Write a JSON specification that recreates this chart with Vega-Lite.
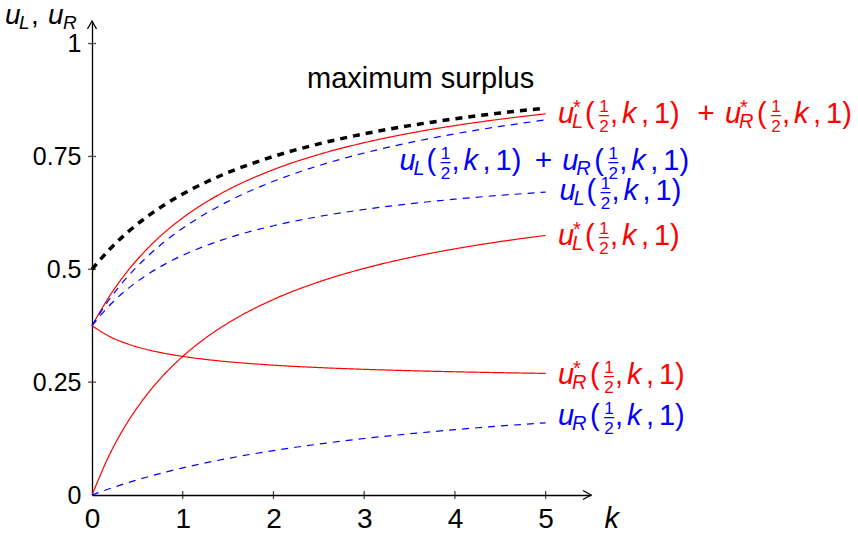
{
  "$schema": "https://vega.github.io/schema/vega-lite/v6.json",
  "width": 499,
  "height": 474,
  "autosize": {"type": "none"},
  "padding": {"left": 92, "top": 21, "right": 267, "bottom": 38},
  "background": "white",
  "config": {
    "view": {"stroke": null},
    "font": "Liberation Sans",
    "axis": {"labelColor": "black", "domainColor": "black", "grid": false}
  },
  "datasets": {
    "curves": [
      {"k": 0, "max": 0.5, "optSum": 0.375, "actSum": 0.375, "uL": 0.375, "uLs": 0, "uRs": 0.375, "uR": 0},
      {"k": 0.2, "max": 0.5455, "optSum": 0.4427, "actSum": 0.4359, "uL": 0.4214, "uLs": 0.0922, "uRs": 0.3505, "uR": 0.0145},
      {"k": 0.4, "max": 0.5833, "optSum": 0.498, "actSum": 0.4853, "uL": 0.4577, "uLs": 0.1638, "uRs": 0.3342, "uR": 0.0276},
      {"k": 0.6, "max": 0.6154, "optSum": 0.5436, "actSum": 0.5263, "uL": 0.4869, "uLs": 0.2211, "uRs": 0.3225, "uR": 0.0394},
      {"k": 0.8, "max": 0.6429, "optSum": 0.5818, "actSum": 0.5611, "uL": 0.5109, "uLs": 0.268, "uRs": 0.3138, "uR": 0.0502},
      {"k": 1, "max": 0.6667, "optSum": 0.614, "actSum": 0.591, "uL": 0.531, "uLs": 0.307, "uRs": 0.307, "uR": 0.06},
      {"k": 1.25, "max": 0.6923, "optSum": 0.6479, "actSum": 0.623, "uL": 0.5519, "uLs": 0.3475, "uRs": 0.3004, "uR": 0.0711},
      {"k": 1.5, "max": 0.7143, "optSum": 0.6762, "actSum": 0.6504, "uL": 0.5693, "uLs": 0.381, "uRs": 0.2952, "uR": 0.0811},
      {"k": 2, "max": 0.75, "optSum": 0.7208, "actSum": 0.6949, "uL": 0.5965, "uLs": 0.4332, "uRs": 0.2876, "uR": 0.0984},
      {"k": 2.5, "max": 0.7778, "optSum": 0.7543, "actSum": 0.7296, "uL": 0.6168, "uLs": 0.472, "uRs": 0.2823, "uR": 0.1128},
      {"k": 3, "max": 0.8, "optSum": 0.7804, "actSum": 0.7576, "uL": 0.6325, "uLs": 0.502, "uRs": 0.2784, "uR": 0.1251},
      {"k": 3.5, "max": 0.8182, "optSum": 0.8013, "actSum": 0.7806, "uL": 0.645, "uLs": 0.5259, "uRs": 0.2754, "uR": 0.1356},
      {"k": 4, "max": 0.8333, "optSum": 0.8183, "actSum": 0.8001, "uL": 0.6553, "uLs": 0.5453, "uRs": 0.273, "uR": 0.1448},
      {"k": 4.5, "max": 0.8462, "optSum": 0.8324, "actSum": 0.8166, "uL": 0.6638, "uLs": 0.5614, "uRs": 0.271, "uR": 0.1528},
      {"k": 5, "max": 0.8571, "optSum": 0.8444, "actSum": 0.8309, "uL": 0.671, "uLs": 0.575, "uRs": 0.2694, "uR": 0.1599}
    ],
    "terms": [
      {"series": "optSum", "sub": "L", "star": "*", "k": 5.136, "v": 0.824},
      {"series": "optSum", "sub": "R", "star": "*", "k": 6.977, "v": 0.824},
      {"series": "actSum", "sub": "L", "star": "", "k": 3.39, "v": 0.7195},
      {"series": "actSum", "sub": "R", "star": "", "k": 5.184, "v": 0.7195},
      {"series": "uL", "sub": "L", "star": "", "k": 5.154, "v": 0.653},
      {"series": "uLs", "sub": "L", "star": "*", "k": 5.136, "v": 0.553},
      {"series": "uRs", "sub": "R", "star": "*", "k": 5.136, "v": 0.2466},
      {"series": "uR", "sub": "R", "star": "", "k": 5.136, "v": 0.154}
    ],
    "plus": [
      {"series": "optSum", "k": 6.767, "v": 0.824},
      {"series": "actSum", "k": 4.976, "v": 0.7195}
    ],
    "ticksX": [{"k": 1, "v": 0}, {"k": 2, "v": 0}, {"k": 3, "v": 0}, {"k": 4, "v": 0}, {"k": 5, "v": 0}],
    "ticksY": [{"k": 0, "v": 0.25}, {"k": 0, "v": 0.5}, {"k": 0, "v": 0.75}, {"k": 0, "v": 1}],
    "yTitle": [{"k": -0.959, "v": 1.044}],
    "xTitle": [{"k": 5.65, "v": -0.0731}],
    "note": [{"k": 2.37, "v": 0.9016}]
  },
  "encoding": {
    "x": {
      "field": "k", "type": "quantitative",
      "scale": {"domain": [0, 5.5], "nice": false, "zero": false},
      "axis": {"values": [0, 1, 2, 3, 4, 5], "title": null, "ticks": false, "tickSize": 0, "labelPadding": 10, "labelFontSize": 28, "labelFlush": false, "labelOverlap": false, "domainWidth": 1.3}
    },
    "y": {
      "field": "v", "type": "quantitative",
      "scale": {"domain": [0, 1.05], "nice": false},
      "axis": {"values": [0, 0.25, 0.5, 0.75, 1], "format": ".2~f", "title": null, "ticks": false, "tickSize": 0, "labelPadding": 11, "labelFontSize": 25, "labelFlush": false, "labelOverlap": false, "domainWidth": 1.3}
    }
  },
  "layer": [
    {
      "data": {"name": "curves"},
      "transform": [{"fold": ["optSum", "actSum", "uL", "uLs", "uRs", "uR"], "as": ["series", "v"]}],
      "mark": {"type": "line", "interpolate": "monotone", "strokeWidth": 1.2},
      "encoding": {
        "color": {"field": "series", "type": "nominal", "legend": null,
          "scale": {"domain": ["max", "optSum", "actSum", "uL", "uLs", "uRs", "uR"], "range": ["#000000", "#ff0000", "#0000ff", "#0000ff", "#ff0000", "#ff0000", "#0000ff"]}},
        "strokeDash": {"field": "series", "type": "nominal", "legend": null,
          "scale": {"domain": ["optSum", "actSum", "uL", "uLs", "uRs", "uR"], "range": [[1, 0], [7, 6], [7, 6], [1, 0], [1, 0], [7, 6]]}}
      }
    },
    {
      "data": {"name": "curves"},
      "transform": [{"fold": ["max"], "as": ["series", "v"]}],
      "mark": {"type": "line", "interpolate": "monotone", "strokeWidth": 3.5, "strokeDash": [7, 6], "color": "black"}
    },
    {"data": {"name": "ticksX"}, "mark": {"type": "tick", "orient": "vertical", "size": 8, "thickness": 1.3, "color": "black"}},
    {"data": {"name": "ticksY"}, "mark": {"type": "tick", "orient": "horizontal", "size": 8, "thickness": 1.3, "color": "black"}},
    {"data": {"values": [{"k": 5.5, "v": 0}]}, "mark": {"type": "point", "shape": "M-1.6,-0.9L0,0L-1.6,0.9", "size": 100, "filled": false, "stroke": "black", "strokeWidth": 1.3, "opacity": 1}},
    {"data": {"values": [{"k": 0, "v": 1.05}]}, "mark": {"type": "point", "shape": "M-0.9,1.6L0,0L0.9,1.6", "size": 100, "filled": false, "stroke": "black", "strokeWidth": 1.3, "opacity": 1}},
    {"data": {"name": "note"}, "mark": {"type": "text", "text": "maximum surplus", "fontSize": 29, "align": "left", "baseline": "alphabetic", "color": "black"}},
    {"data": {"name": "xTitle"}, "mark": {"type": "text", "text": "k", "fontSize": 29, "fontStyle": "italic", "align": "left", "baseline": "alphabetic", "color": "black"}},
    {"data": {"name": "yTitle"}, "mark": {"type": "text", "text": "u", "fontSize": 28, "fontStyle": "italic", "align": "left", "baseline": "alphabetic", "color": "black"}},
    {"data": {"name": "yTitle"}, "mark": {"type": "text", "text": "L", "fontSize": 19, "fontStyle": "italic", "align": "left", "baseline": "alphabetic", "dx": 14, "dy": 5, "color": "black"}},
    {"data": {"name": "yTitle"}, "mark": {"type": "text", "text": ",", "fontSize": 28, "align": "left", "baseline": "alphabetic", "dx": 26, "color": "black"}},
    {"data": {"name": "yTitle"}, "mark": {"type": "text", "text": "u", "fontSize": 28, "fontStyle": "italic", "align": "left", "baseline": "alphabetic", "dx": 43, "color": "black"}},
    {"data": {"name": "yTitle"}, "mark": {"type": "text", "text": "R", "fontSize": 19, "fontStyle": "italic", "align": "left", "baseline": "alphabetic", "dx": 58, "dy": 5, "color": "black"}},
    {"data": {"name": "plus"}, "mark": {"type": "text", "text": "+", "fontSize": 30, "align": "center", "baseline": "alphabetic"}, "encoding": {"color": {"field": "series", "type": "nominal", "legend": null}}},
    {"data": {"name": "terms"}, "mark": {"type": "text", "text": "u", "fontSize": 29, "fontStyle": "italic", "align": "left", "baseline": "alphabetic"}, "encoding": {"color": {"field": "series", "type": "nominal", "legend": null}}},
    {"data": {"name": "terms"}, "mark": {"type": "text", "fontSize": 20, "fontStyle": "italic", "align": "left", "baseline": "alphabetic", "dx": 14, "dy": 5}, "encoding": {"text": {"field": "sub"}, "color": {"field": "series", "type": "nominal", "legend": null}}},
    {"data": {"name": "terms"}, "mark": {"type": "text", "fontSize": 20, "align": "left", "baseline": "alphabetic", "dx": 15, "dy": -9}, "encoding": {"text": {"field": "star"}, "color": {"field": "series", "type": "nominal", "legend": null}}},
    {"data": {"name": "terms"}, "transform": [{"filter": "datum.sub == 'L'"}], "mark": {"type": "text", "text": "(", "fontSize": 29, "align": "left", "baseline": "alphabetic", "dx": 27}, "encoding": {"color": {"field": "series", "type": "nominal", "legend": null}}},
    {"data": {"name": "terms"}, "transform": [{"filter": "datum.sub == 'L'"}], "mark": {"type": "text", "text": "1", "fontSize": 17, "align": "center", "baseline": "alphabetic", "dx": 46, "dy": -11}, "encoding": {"color": {"field": "series", "type": "nominal", "legend": null}}},
    {"data": {"name": "terms"}, "transform": [{"filter": "datum.sub == 'L'"}], "mark": {"type": "text", "text": "–", "fontSize": 18, "align": "center", "baseline": "alphabetic", "dx": 46, "dy": -3}, "encoding": {"color": {"field": "series", "type": "nominal", "legend": null}}},
    {"data": {"name": "terms"}, "transform": [{"filter": "datum.sub == 'L'"}], "mark": {"type": "text", "text": "2", "fontSize": 17, "align": "center", "baseline": "alphabetic", "dx": 46, "dy": 9}, "encoding": {"color": {"field": "series", "type": "nominal", "legend": null}}},
    {"data": {"name": "terms"}, "transform": [{"filter": "datum.sub == 'L'"}], "mark": {"type": "text", "text": ",", "fontSize": 29, "align": "left", "baseline": "alphabetic", "dx": 52}, "encoding": {"color": {"field": "series", "type": "nominal", "legend": null}}},
    {"data": {"name": "terms"}, "transform": [{"filter": "datum.sub == 'L'"}], "mark": {"type": "text", "text": "k", "fontSize": 29, "fontStyle": "italic", "align": "left", "baseline": "alphabetic", "dx": 64}, "encoding": {"color": {"field": "series", "type": "nominal", "legend": null}}},
    {"data": {"name": "terms"}, "transform": [{"filter": "datum.sub == 'L'"}], "mark": {"type": "text", "text": ",", "fontSize": 29, "align": "left", "baseline": "alphabetic", "dx": 83}, "encoding": {"color": {"field": "series", "type": "nominal", "legend": null}}},
    {"data": {"name": "terms"}, "transform": [{"filter": "datum.sub == 'L'"}], "mark": {"type": "text", "text": "1)", "fontSize": 29, "align": "left", "baseline": "alphabetic", "dx": 96}, "encoding": {"color": {"field": "series", "type": "nominal", "legend": null}}},
    {"data": {"name": "terms"}, "transform": [{"filter": "datum.sub == 'R'"}], "mark": {"type": "text", "text": "(", "fontSize": 29, "align": "left", "baseline": "alphabetic", "dx": 32}, "encoding": {"color": {"field": "series", "type": "nominal", "legend": null}}},
    {"data": {"name": "terms"}, "transform": [{"filter": "datum.sub == 'R'"}], "mark": {"type": "text", "text": "1", "fontSize": 17, "align": "center", "baseline": "alphabetic", "dx": 51, "dy": -11}, "encoding": {"color": {"field": "series", "type": "nominal", "legend": null}}},
    {"data": {"name": "terms"}, "transform": [{"filter": "datum.sub == 'R'"}], "mark": {"type": "text", "text": "–", "fontSize": 18, "align": "center", "baseline": "alphabetic", "dx": 51, "dy": -3}, "encoding": {"color": {"field": "series", "type": "nominal", "legend": null}}},
    {"data": {"name": "terms"}, "transform": [{"filter": "datum.sub == 'R'"}], "mark": {"type": "text", "text": "2", "fontSize": 17, "align": "center", "baseline": "alphabetic", "dx": 51, "dy": 9}, "encoding": {"color": {"field": "series", "type": "nominal", "legend": null}}},
    {"data": {"name": "terms"}, "transform": [{"filter": "datum.sub == 'R'"}], "mark": {"type": "text", "text": ",", "fontSize": 29, "align": "left", "baseline": "alphabetic", "dx": 57}, "encoding": {"color": {"field": "series", "type": "nominal", "legend": null}}},
    {"data": {"name": "terms"}, "transform": [{"filter": "datum.sub == 'R'"}], "mark": {"type": "text", "text": "k", "fontSize": 29, "fontStyle": "italic", "align": "left", "baseline": "alphabetic", "dx": 69}, "encoding": {"color": {"field": "series", "type": "nominal", "legend": null}}},
    {"data": {"name": "terms"}, "transform": [{"filter": "datum.sub == 'R'"}], "mark": {"type": "text", "text": ",", "fontSize": 29, "align": "left", "baseline": "alphabetic", "dx": 88}, "encoding": {"color": {"field": "series", "type": "nominal", "legend": null}}},
    {"data": {"name": "terms"}, "transform": [{"filter": "datum.sub == 'R'"}], "mark": {"type": "text", "text": "1)", "fontSize": 29, "align": "left", "baseline": "alphabetic", "dx": 101}, "encoding": {"color": {"field": "series", "type": "nominal", "legend": null}}}
  ]
}
